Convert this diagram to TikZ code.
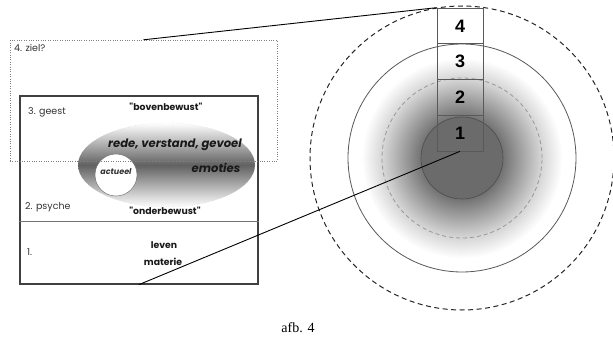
\documentclass[tikz,border=0pt]{standalone}
\usepackage{fontspec}
\setmainfont{Liberation Serif}
\newfontfamily\gothic{Poppins}
\newfontfamily\nrfont{Liberation Sans}
\usetikzlibrary{calc,shapes}
\pgfdeclareradialshading{ringshade}{\pgfpoint{0bp}{0bp}}{color(0bp)=(black!62); color(9bp)=(black!55); color(17bp)=(black!18); color(22bp)=(white); color(25bp)=(white); color(50bp)=(white)}
\tikzset{
  lbl/.style={font=\gothic\fontsize{9.5}{10}\selectfont,text=black!80,inner sep=0pt},
  lblb/.style={font=\gothic\bfseries\fontsize{9.3}{10}\selectfont,text=black!90,inner sep=0pt},
  lblbi/.style={font=\gothic\bfseries\itshape\fontsize{11.6}{12}\selectfont,text=black!90,inner sep=0pt},
  nrbox/.style={draw=black!65,line width=0.7pt,minimum width=46pt,minimum height=35.75pt,inner sep=0pt,font=\nrfont\bfseries\fontsize{18}{18}\selectfont},
  link/.style={draw=black,line width=0.9pt}
}

\begin{document}
\begin{tikzpicture}[x=1pt,y=-1pt]
\useasboundingbox (0,0) rectangle (613,339);
% kringen
\shade[shading=ringshade] (462,158) circle [radius=114pt];
\draw[color=black!40,line width=0.8pt,dash pattern=on 4pt off 3pt] (462,158) circle [radius=80pt];
\draw[color=black!65,line width=0.8pt] (462,158) circle [radius=114pt];
\draw[color=black!85,line width=1pt,dash pattern=on 5pt off 3.5pt] (462,158) circle [radius=152pt];
\fill[color=black!58,draw=black!70,line width=0.6pt] (462,158) circle [radius=41pt];
% lagen
\node[nrbox] (b4) at (460,25.9) {4};
\node[nrbox] (b3) at (460,61.6) {3};
\node[nrbox] (b2) at (460,97.4) {2};
\node[nrbox] (b1) at (460,133.1) {1};
% mens
\node[draw=black!75,line width=1.2pt,minimum width=238pt,minimum height=188pt,inner sep=0pt] (mens) at (139,190) {};
\draw[color=black!55,line width=0.8pt] (mens.west |- 0,221) -- (mens.east |- 0,221);
\shade[top color=white,bottom color=white,middle color=black!62,draw=black!25,dotted] (166.5,165) ellipse [x radius=88.5pt,y radius=42pt];
\node[circle,draw=black!60,fill=white,minimum size=42pt,inner sep=0pt] (actueel) at (116,175) {};
\node[lbl,font=\gothic\bfseries\itshape\fontsize{8}{8}\selectfont] at (116,172) {actueel};
\node[lbl,anchor=west] (ziellbl) at (14,48) {4. ziel?};
\node[lbl,anchor=west] (geest) at (28,112) {3. geest};
\node[lblb] (boven) at (166,107) {"bovenbewust"};
\node[lblbi] (rede) at (175,145) {rede, verstand, gevoel};
\node[lblbi] (emoties) at (216,168) {emoties};
\node[lbl,anchor=west] (psyche) at (25,207) {2. psyche};
\node[lblb] (onder) at (165,211) {"onderbewust"};
\node[lbl,anchor=west] (een) at (27,252) {1.};
\node[lblb] (leven) at (164,245) {leven};
\node[lblb] (materie) at (163,262) {materie};
\node[draw=black!50,dotted,minimum width=267pt,minimum height=121pt,inner sep=0pt] (ziel) at (143.5,100.5) {};
% verbindingen
\draw[link] (b4.north west) -- (ziel.north);
\draw[link] (b1.south) -- (mens.south);
\node[font=\fontsize{14}{14}\selectfont] (afb) at (298,328) {afb. 4};
\end{tikzpicture}
\end{document}
